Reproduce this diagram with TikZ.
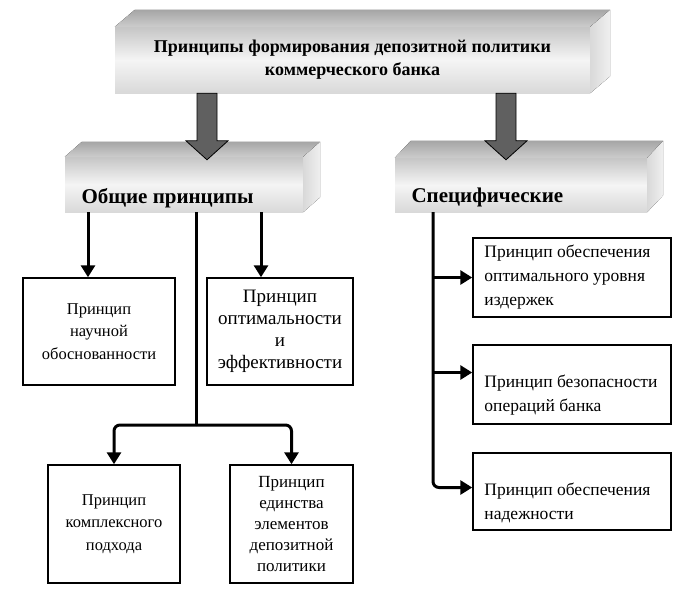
\documentclass[tikz,border=0pt]{standalone}
\usepackage{fontspec}
\setmainfont{Liberation Serif}
\usetikzlibrary{arrows.meta, positioning, calc}

% sides of a raised bar
\newcommand{\barsides}[3]{%
  \fill[top color=gray!70, bottom color=gray!40] (#1.north west) -- ++(#2,-#3) -- ([shift={(#2,-#3)}]#1.north east) -- (#1.north east) -- cycle;
  \fill[left color=gray!30, right color=gray!12] (#1.north east) -- ++(#2,-#3) -- ([shift={(#2,-#3)}]#1.south east) -- (#1.south east) -- cycle;
}
% thick block arrow, #1 start, #2 tip
\newcommand{\blockarrow}[2]{%
  \draw[line width=0.8pt, fill=gray!75!black] ($(#1)+(-10,0)$) -- ($(#2)+(-10,-19)$) -- ($(#2)+(-21,-19)$) -- (#2) -- ($(#2)+(21,-19)$) -- ($(#2)+(10,-19)$) -- ($(#1)+(10,0)$) -- cycle;
}

\begin{document}
\begin{tikzpicture}[x=1pt, y=-1pt,
    front/.style={rectangle, inner sep=0pt, top color=gray!45, bottom color=gray!30, middle color=gray!8},
    bartext/.style={font=\fontsize{21}{23}\selectfont\bfseries, align=center},
    box/.style={draw=black, line width=1.5pt, fill=white, inner sep=0pt, align=center, font=\fontsize{16.5}{22.5}\selectfont},
    boxtext/.style={align=left, anchor=west, inner sep=0pt, font=\fontsize{17.5}{24}\selectfont},
    link/.style={line width=3pt, -{Triangle[width=14pt, length=12pt]}}]
  \useasboundingbox (0,0) rectangle (700,598);

  % bars
  \node[front, minimum width=475pt, minimum height=66pt] (title) at (352.5,60) {};
  \barsides{title}{20}{17}
  \node[bartext, font=\fontsize{18}{23}\selectfont\bfseries] (titletext) at (title.center) {Принципы формирования депозитной политики\\коммерческого банка};

  \node[front, minimum width=238pt, minimum height=55pt] (general) at (184,184.5) {};
  \barsides{general}{17}{15}
  \node[bartext, anchor=west] (generaltext) at (78,198) {Общие принципы};

  \node[front, minimum width=252pt, minimum height=54pt] (specific) at (521,185) {};
  \barsides{specific}{16}{17}
  \node[bartext, anchor=west] (specifictext) at (408,197) {Специфические};

  % general principles
  \node[box, minimum width=152pt, minimum height=107pt] (box1) at (99,331.5) {Принцип\\научной\\обоснованности};
  \node[box, minimum width=146pt, minimum height=107pt, font=\fontsize{19}{22}\selectfont] (box2) at (280,331.5) {Принцип\\оптимальности\\и\\эффективности};
  \node[box, minimum width=132pt, minimum height=118pt] (box3) at (114,524) {Принцип\\комплексного\\подхода};
  \node[box, minimum width=123pt, minimum height=118pt, font=\fontsize{17}{21}\selectfont] (box4) at (291.5,524) {Принцип\\единства\\элементов\\депозитной\\политики};

  % specific principles
  \node[box, minimum width=198pt, minimum height=79pt] (r1) at (572,277.5) {};
  \node[boxtext] (r1text) at ([xshift=12pt]r1.west) {Принцип обеспечения\\оптимального уровня\\издержек};
  \node[box, minimum width=198pt, minimum height=79pt] (r2) at (572,384.5) {};
  \node[boxtext] (r2text) at ([xshift=12pt, yshift=-11pt]r2.west) {Принцип безопасности\\операций банка};
  \node[box, minimum width=198pt, minimum height=77pt] (r3) at (572,491.5) {};
  \node[boxtext] (r3text) at ([xshift=12pt, yshift=-11pt]r3.west) {Принцип обеспечения\\надежности};

  % block arrows
  \coordinate (leftarrow) at (207,0);
  \coordinate (rightarrow) at (506,0);
  \blockarrow{title.south -| leftarrow}{$(general.north -| leftarrow)+(0,3)$}
  \blockarrow{title.south -| rightarrow}{$(specific.north -| rightarrow)+(0,2)$}

  % connectors
  \coordinate (fork) at (196,425);
  \coordinate (spine) at (433,0);
  \coordinate (r2in) at ([yshift=12pt]r2.west);
  \coordinate (r3in) at ([yshift=4pt]r3.west);
  \draw[link] ([xshift=-11pt]box1.north |- general.south) -- ([xshift=-11pt]box1.north);
  \draw[link] ([xshift=-19pt]box2.north |- general.south) -- ([xshift=-19pt]box2.north);
  \draw[line width=3pt] (general.south -| fork) -- (fork);
  \draw[link, rounded corners=6pt] (fork) -| (box3.north);
  \draw[link, rounded corners=6pt] (fork) -| (box4.north);
  \draw[link] (spine |- r1.west) -- (r1.west);
  \draw[link] (spine |- r2in) -- (r2in);
  \draw[link, rounded corners=6pt] (specific.south -| spine) |- (r3in);
\end{tikzpicture}
\end{document}
